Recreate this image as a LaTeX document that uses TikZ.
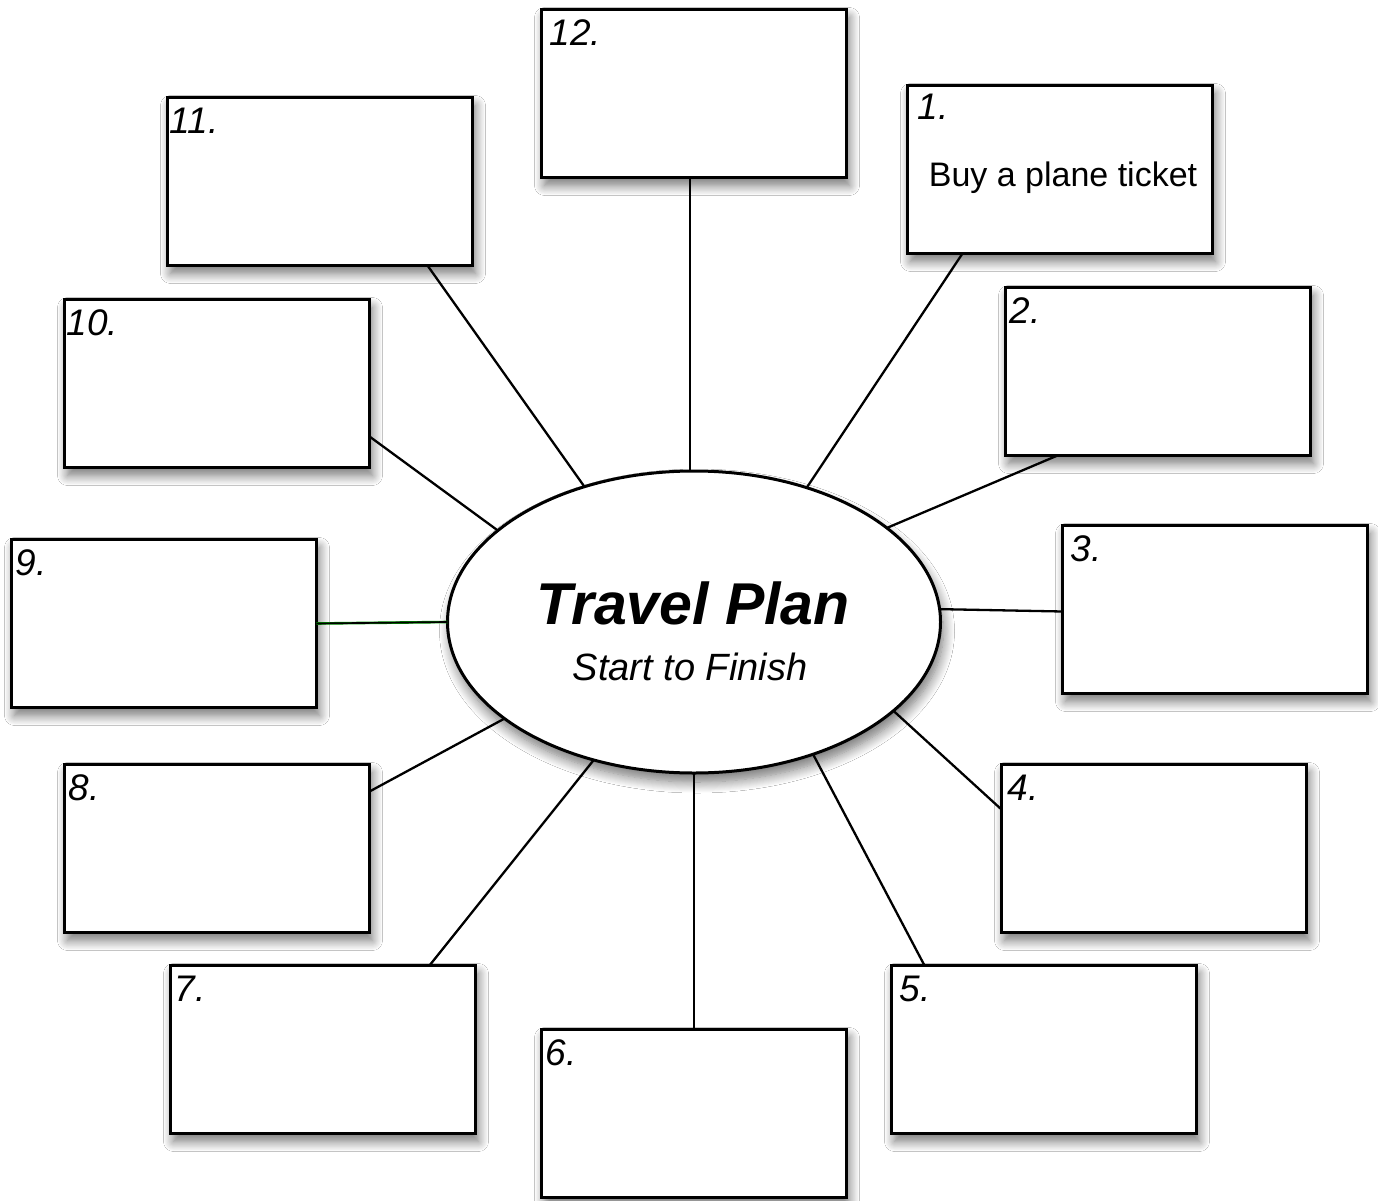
\documentclass[tikz,border=0pt]{standalone}
\usepackage{fontspec}
\setmainfont{Liberation Sans}
\usetikzlibrary{shapes.geometric,shadows.blur}
\tikzset{
  card/.style={draw, line width=3pt, fill=white, minimum width=305pt, minimum height=168pt,
    anchor=north west, inner sep=0pt, outer sep=0pt,
    blur shadow={shadow xshift=3pt, shadow yshift=-8pt, shadow blur radius=10pt, shadow blur steps=12, shadow opacity=55}},
  hub/.style={draw, ellipse, line width=3pt, fill=white, minimum width=493pt, minimum height=302pt,
    inner sep=0pt, outer sep=0pt,
    blur shadow={shadow xshift=3pt, shadow yshift=-9pt, shadow blur radius=11pt, shadow blur steps=12, shadow opacity=55}},
  num/.style={anchor=base west, inner sep=0pt, font=\fontsize{37}{40}\selectfont\itshape},
  spoke/.style={line width=2.3pt, black},
  gspoke/.style={line width=0.45pt, draw=green!60!black, double=black, double distance=1.7pt}
}
\begin{document}
\begin{tikzpicture}[x=1pt,y=-1pt]
\useasboundingbox[fill=white] (0,0) rectangle (1378,1201);
% boxes
\node[card] (b12) at (541.5,9.5) {};
\node[card] (b1) at (907.5,85.5) {};
\node[card] (b11) at (167.5,97.5) {};
\node[card] (b2) at (1005.5,287.5) {};
\node[card] (b10) at (64.5,299.5) {};
\node[card] (b3) at (1062.5,525.5) {};
\node[card] (b9) at (11.5,539.5) {};
\node[card] (b8) at (64.5,764.5) {};
\node[card] (b4) at (1001.5,764.5) {};
\node[card] (b7) at (170.5,965.5) {};
\node[card] (b5) at (891.5,965.5) {};
\node[card] (b6) at (541.5,1029.5) {};
% hub
\node[hub] (ell) at (694,622) {};
% labels
\node[num] (n12) at ([xshift=8pt,yshift=-36pt]b12.north west) {12.};
\node[num] (n1) at ([xshift=10pt,yshift=-34pt]b1.north west) {1.};
\node[num] (n11) at ([xshift=2pt,yshift=-36pt]b11.north west) {11.};
\node[num] (n2) at ([xshift=4pt,yshift=-36pt]b2.north west) {2.};
\node[num] (n10) at ([xshift=2pt,yshift=-36pt]b10.north west) {10.};
\node[num] (n3) at ([xshift=8pt,yshift=-36pt]b3.north west) {3.};
\node[num] (n9) at ([xshift=4pt,yshift=-36pt]b9.north west) {9.};
\node[num] (n8) at ([xshift=4pt,yshift=-36pt]b8.north west) {8.};
\node[num] (n4) at ([xshift=6pt,yshift=-36pt]b4.north west) {4.};
\node[num] (n7) at ([xshift=4pt,yshift=-36pt]b7.north west) {7.};
\node[num] (n5) at ([xshift=8pt,yshift=-36pt]b5.north west) {5.};
\node[num] (n6) at ([xshift=4pt,yshift=-36pt]b6.north west) {6.};
\node[anchor=base, inner sep=0pt, font=\fontsize{34}{38}\selectfont] (t1) at (1063,186) {Buy a plane ticket};
\node[anchor=base, inner sep=0pt, font=\fontsize{59}{64}\selectfont\bfseries\itshape] (title) at (693,624) {Travel Plan};
\node[anchor=base, inner sep=0pt, font=\fontsize{38}{42}\selectfont\itshape] (sub) at (690,680) {Start to Finish};
% connectors
\draw[gspoke] ([xshift=-4pt]b12.south) -- ([xshift=-4pt]ell.north);
\draw[spoke] ([xshift=55pt]b1.south west) -- (ell.50);
\draw[spoke] ([xshift=-45pt]b11.south east) -- (ell.129);
\draw[spoke] ([xshift=52pt]b2.south west) -- (ell.26);
\draw[spoke] ([yshift=-53pt]b10.east) -- (ell.155);
\draw[spoke] ([yshift=-2pt]b3.west) -- (ell.3);
\draw[gspoke] (b9.east) -- (ell.west);
\draw[spoke] ([yshift=-27pt]b8.north east) -- (ell.207);
\draw[spoke] ([yshift=-45pt]b4.north west) -- (ell.336);
\draw[spoke] ([xshift=-46pt]b7.north east) -- (ell.234);
\draw[spoke] ([xshift=33pt]b5.north west) -- (ell.312);
\draw[gspoke] (b6.north) -- (ell.south);
\end{tikzpicture}
\end{document}
